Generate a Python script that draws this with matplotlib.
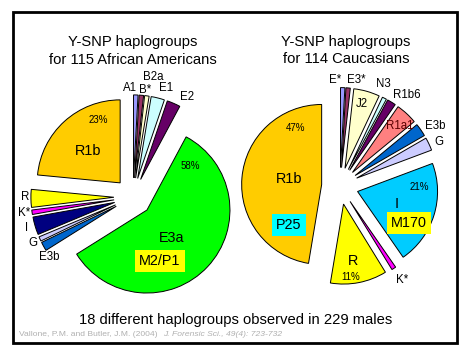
import matplotlib.pyplot as plt
from matplotlib.patches import Rectangle

plt.rcParams['font.family'] = ['Liberation Sans', 'DejaVu Sans']

# African Americans (115), clockwise from 12 o'clock
aa_groups = ['A1', 'B*', 'B2a', 'E1', 'E2', 'E3a', 'E3b', 'G', 'I', 'K*', 'R', 'R1b']
aa_counts = [1, 1, 1, 3, 3, 67, 2, 1, 4, 1, 4, 27]
aa_colors = ['#9999FF', '#993366', '#FFFFCC', '#CCFFFF', '#660066', '#00FF00',
             '#0066CC', '#CCCCFF', '#000080', '#FF00FF', '#FFFF00', '#FFCC00']

# Caucasians (114)
ca_groups = ['E*', 'E3*', 'J2', 'N3', 'R1b6', 'R1a1', 'E3b', 'G', 'I', 'K*', 'R', 'R1b']
ca_counts = [1, 1, 6, 1, 2, 5, 3, 3, 24, 1, 13, 54]
ca_colors = ['#9999FF', '#993366', '#FFFFCC', '#CCFFFF', '#660066', '#FF8080',
             '#0066CC', '#CCCCFF', '#00CCFF', '#FF00FF', '#FFFF00', '#FFCC00']

H = 363
fig = plt.figure(figsize=(4.7, 3.63), dpi=100)
ax = fig.add_axes([0, 0, 1, 1])

wp = dict(edgecolor='black', linewidth=0.7)
# explode in matplotlib is in data units, so scale by radius
r1, r2 = 83, 80
ax.pie(aa_counts, colors=aa_colors, startangle=90, counterclock=False,
       explode=[0.23 * r1] * len(aa_counts), center=(133, H - 197), radius=r1,
       wedgeprops=wp, frame=True)
ax.pie(ca_counts, colors=ca_colors, startangle=90, counterclock=False,
       explode=[0.23 * r2] * len(ca_counts), center=(340, H - 186), radius=r2,
       wedgeprops=wp, frame=True)
ax.set_xlim(0, 470)
ax.set_ylim(0, H)
ax.set_aspect('equal')
ax.axis('off')

# border
ax.add_patch(Rectangle((13, H - 343), 444, 331, fill=False, edgecolor='black', linewidth=2))


def t(x, y, s, size=8.3, **kw):
    ax.text(x, H - y, s, fontsize=size, ha='center', va='center', **kw)


t(133, 42, 'Y-SNP haplogroups', 10.6)
t(133, 60, 'for 115 African Americans', 10.6)
t(346, 42, 'Y-SNP haplogroups', 10.6)
t(346, 59, 'for 114 Caucasians', 10.6)

# left labels
aa_lab_pos = {'A1': (130, 88), 'B*': (145, 90), 'B2a': (153, 77), 'E1': (166, 88),
              'E2': (187, 97), 'R': (25, 197), 'K*': (24, 213), 'I': (27, 228),
              'G': (33, 243), 'E3b': (49, 257)}
for k, (x, y) in aa_lab_pos.items():
    t(x, y, k)
t(98, 120, '23%', 7)
t(88, 151, 'R1b', 10.4)
t(190, 166, '58%', 7)
t(172, 238, 'E3a', 10.4)
t(160, 261, 'M2/P1', 10.4,
  bbox=dict(boxstyle='square,pad=0.3', facecolor='#FFFF00', edgecolor='none'))

# right labels
ca_lab_pos = {'E*': (335, 80), 'E3*': (356, 80), 'N3': (383, 84), 'R1b6': (407, 95),
              'E3b': (435, 126), 'G': (439, 142), 'K*': (402, 280)}
for k, (x, y) in ca_lab_pos.items():
    t(x, y, k)
t(362, 104, 'J2', 8.3)
t(400, 126, 'R1a1', 8.3, color='#5A0000')
t(296, 128, '47%', 7)
t(289, 179, 'R1b', 10.4)
t(289, 225, 'P25', 10.4,
  bbox=dict(boxstyle='square,pad=0.3', facecolor='#00FFFF', edgecolor='none'))
t(419, 187, '21%', 7)
t(397, 204, 'I', 10.4)
t(409, 223, 'M170', 10.4,
  bbox=dict(boxstyle='square,pad=0.3', facecolor='#FFFF00', edgecolor='none'))
t(353, 261, 'R', 10.4)
t(351, 277, '11%', 7)

t(236, 320, '18 different haplogroups observed in 229 males', 10.6)
ax.text(19, H - 335, 'Vallone, P.M. and Butler, J.M. (2004)', fontsize=6.1,
        color='#B0B0B0', ha='left', va='center')
ax.text(163, H - 335, 'J. Forensic Sci., 49(4): 723-732', fontsize=6.1,
        color='#B0B0B0', ha='left', va='center', style='italic')

fig.savefig('out.png', dpi=100)
